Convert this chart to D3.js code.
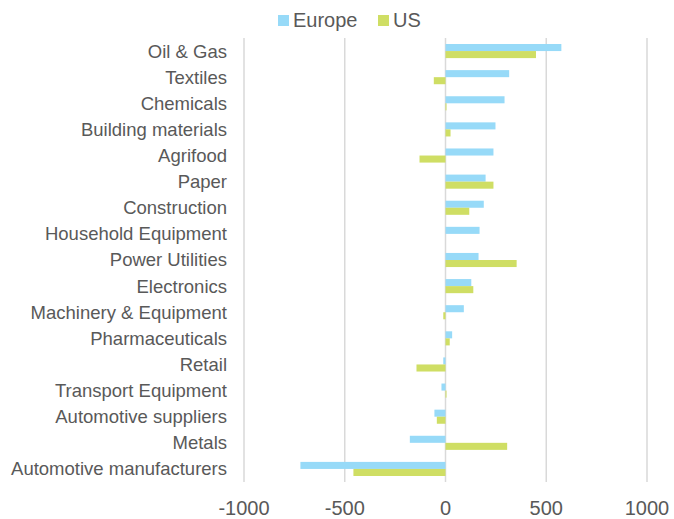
<!DOCTYPE html>
<html>
<head>
<meta charset="utf-8">
<script src="https://cdn.jsdelivr.net/npm/d3@7"></script>
<style>
  body { margin: 0; background: #fff; }
  svg { font-family: "Liberation Sans", Arial, sans-serif; }
</style>
</head>
<body>
<svg id="chart"></svg>
<script>
// data
const sectors = [
    "Oil & Gas", "Textiles", "Chemicals", "Building materials", "Agrifood",
    "Paper", "Construction", "Household Equipment", "Power Utilities",
    "Electronics", "Machinery & Equipment", "Pharmaceuticals", "Retail",
    "Transport Equipment", "Automotive suppliers", "Metals",
    "Automotive manufacturers"
];
const europe = [575, 316, 293, 248, 238, 199, 190, 169, 164, 128, 91, 33, -11, -20, -55, -177, -720];
const us = [449, -58, 5, 25, -129, 238, 118, 0, 353, 138, -11, 21, -144, 5, -43, 306, -457];
const seriesNames = ["Europe", "US"];
const xTicks = [-1000, -500, 0, 500, 1000];

const colors = { Europe: "#97DAF8", US: "#CFDE64" };

const width = 674, height = 519;
const margin = { top: 38, right: 27, bottom: 37, left: 244 };
const innerW = width - margin.left - margin.right;
const innerH = height - margin.top - margin.bottom;

const svg = d3.select("#chart").attr("width", width).attr("height", height);
const g = svg.append("g").attr("transform", `translate(${margin.left},${margin.top})`);

const rows = sectors.map((s, i) => ({ sector: s, Europe: europe[i], US: us[i] }));

const x = d3.scaleLinear().domain([-1000, 1000]).range([0, innerW]);
const y = d3.scaleBand().domain(sectors).range([0, innerH]).paddingInner(0.46).paddingOuter(0.23);
const ySub = d3.scaleBand().domain(seriesNames).range([0, y.bandwidth()]);

// gridlines
g.selectAll("line.grid")
    .data(xTicks)
    .join("line")
    .attr("class", "grid")
    .attr("x1", d => x(d)).attr("x2", d => x(d))
    .attr("y1", 0).attr("y2", innerH)
    .attr("stroke", "#D9D9D9")
    .attr("stroke-width", 1.5);

// bars
const groups = g.selectAll("g.row")
    .data(rows)
    .join("g")
    .attr("class", "row")
    .attr("transform", d => `translate(0,${y(d.sector)})`);

groups.selectAll("rect")
    .data(d => seriesNames.map(k => ({ key: k, value: d[k] })))
    .join("rect")
    .attr("x", d => x(Math.min(0, d.value)))
    .attr("y", d => ySub(d.key))
    .attr("width", d => Math.abs(x(d.value) - x(0)))
    .attr("height", ySub.bandwidth())
    .attr("fill", d => colors[d.key]);

// category labels
g.selectAll("text.cat")
    .data(sectors)
    .join("text")
    .attr("class", "cat")
    .attr("x", -17)
    .attr("y", d => y(d) + y.bandwidth() / 2)
    .attr("dy", "0.35em")
    .attr("text-anchor", "end")
    .attr("font-size", 18.5)
    .attr("fill", "#595959")
    .text(d => d);

// x axis labels
g.selectAll("text.tick")
    .data(xTicks)
    .join("text")
    .attr("class", "tick")
    .attr("x", d => x(d))
    .attr("y", innerH + 33)
    .attr("text-anchor", "middle")
    .attr("font-size", 20)
    .attr("fill", "#595959")
    .text(d => d);

// legend
const legend = svg.append("g").attr("transform", "translate(278,0)");
const legendItems = legend.selectAll("g")
    .data(seriesNames)
    .join("g")
    .attr("transform", (d, i) => `translate(${i * 100},0)`);
legendItems.append("rect")
    .attr("x", 0).attr("y", 15)
    .attr("width", 11).attr("height", 11)
    .attr("fill", d => colors[d]);
legendItems.append("text")
    .attr("x", 15).attr("y", 27)
    .attr("font-size", 20)
    .attr("fill", "#595959")
    .text(d => d);
</script>
</body>
</html>
